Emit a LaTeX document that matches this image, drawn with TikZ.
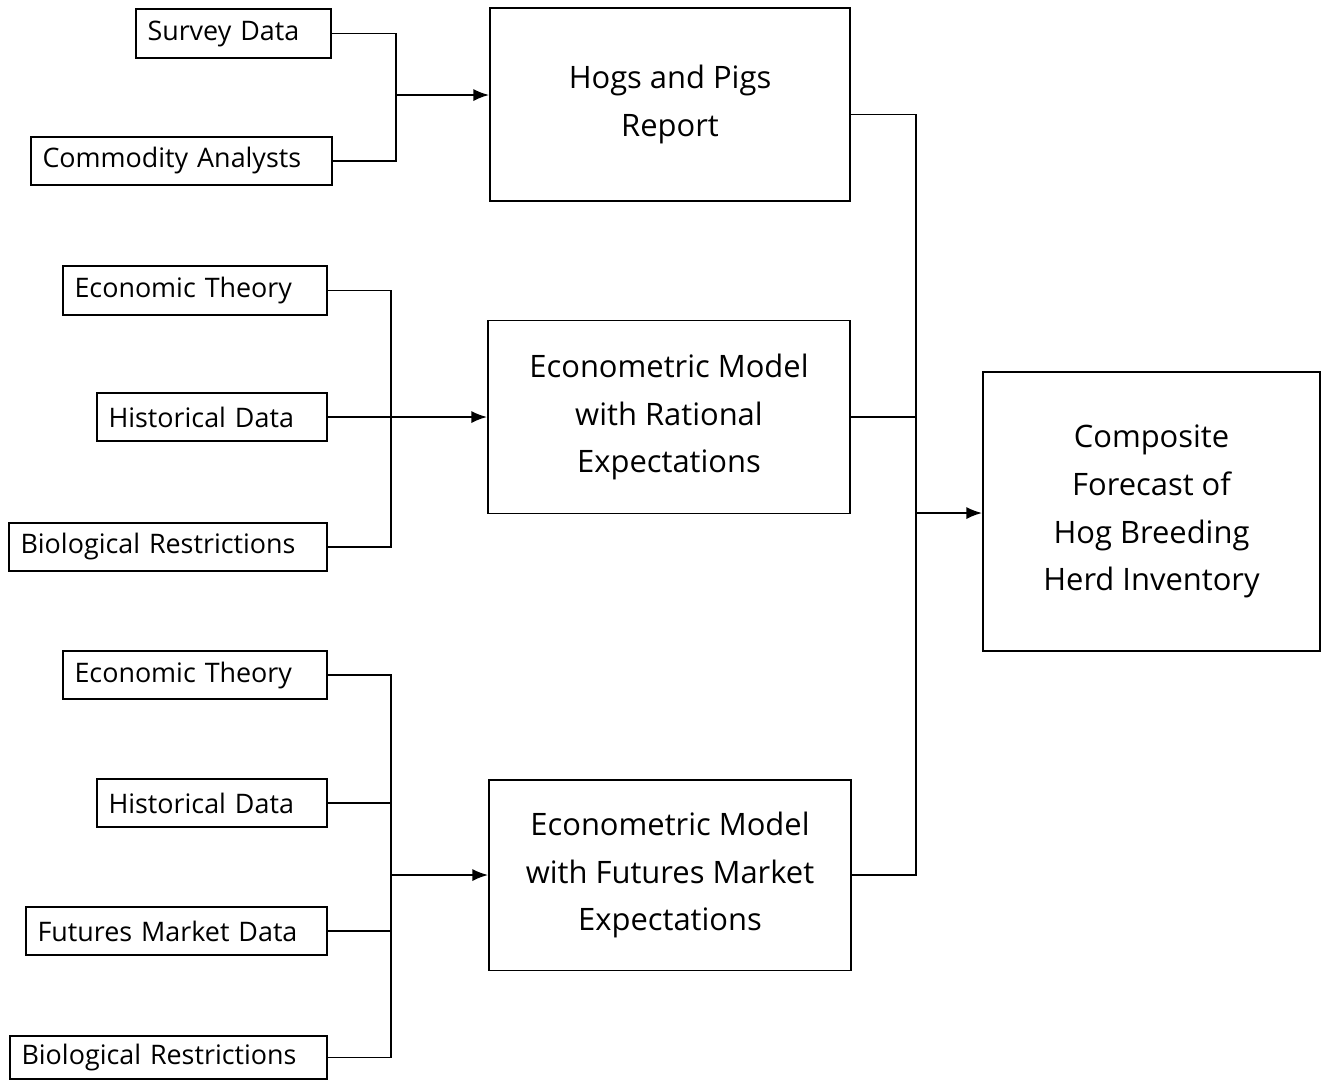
\documentclass[tikz,border=0pt]{standalone}
\usepackage{fontspec}
\setmainfont{Open Sans}
\usetikzlibrary{arrows.meta}

\begin{document}
\begin{tikzpicture}[x=0.02cm, y=-0.02cm, line width=1.1pt,
  src/.style={draw, inner ysep=0pt, inner xsep=0.23cm, text width=#1, align=left,
    minimum height=0.97cm, font=\fontsize{15.3}{17}\selectfont},
  model/.style={draw, inner sep=0pt, align=center, font=\fontsize{17.6}{27.2}\selectfont},
  feed/.style={-{Latex[length=9pt,width=7pt]}}]

\useasboundingbox (0,0) rectangle (1321,1080);

% inputs of the survey report
\node (survey) at (233.5,33.5) [src=3.44cm] {Survey Data};
\node (analysts) at (181.5,161) [src=5.56cm] {Commodity Analysts};
\node (hogs) at (670,104.5) [model, minimum width=7.2cm, minimum height=3.86cm] {Hogs and Pigs\\Report};

% inputs of the rational expectations model
\node (econA) at (195,290.5) [src=4.82cm] {Economic Theory};
\node (histA) at (212,417) [src=4.14cm] {Historical Data};
\node (bioA) at (168,547) [src=5.9cm] {Biological Restrictions};
\node (ratmodel) at (669,417) [model, minimum width=7.24cm, minimum height=3.86cm] {Econometric Model\\with Rational\\Expectations};

% inputs of the futures market model
\node (econB) at (195,675) [src=4.82cm] {Economic Theory};
\node (histB) at (212,803) [src=4.14cm] {Historical Data};
\node (futdata) at (176.5,931) [src=5.56cm] {Futures Market Data};
\node (bioB) at (168.5,1057.5) [src=5.88cm, minimum height=0.87cm] {Biological Restrictions};
\node (futmodel) at (670,875) [model, minimum width=7.24cm, minimum height=3.82cm] {Econometric Model\\with Futures Market\\Expectations};

% composite forecast
\node (composite) at (1151.5,511.5) [model, minimum width=6.74cm, minimum height=5.58cm] {Composite\\Forecast of\\Hog Breeding\\Herd Inventory};

% connectors
\coordinate (busA) at (396,95);
\draw (survey.east) -| (busA) |- (analysts.east);
\draw [feed] (busA) -- (hogs.west |- busA);

\coordinate (busB) at (391,417);
\draw (econA.east) -| (busB) |- (bioA.east);
\draw [feed] (histA.east) -- (ratmodel.west);

\coordinate (busC) at (391,875);
\draw (econB.east) -| (busC) |- (bioB.east);
\draw (histB.east) -- (histB.east -| busC);
\draw (futdata.east) -- (futdata.east -| busC);
\draw [feed] (busC) -- (futmodel.west);

\coordinate (busD) at (916,513);
\draw ([yshift=-0.2cm]hogs.east) -| (busD) |- (futmodel.east);
\draw (ratmodel.east) -- (ratmodel.east -| busD);
\draw [feed] (busD) -- (composite.west |- busD);

\end{tikzpicture}
\end{document}
